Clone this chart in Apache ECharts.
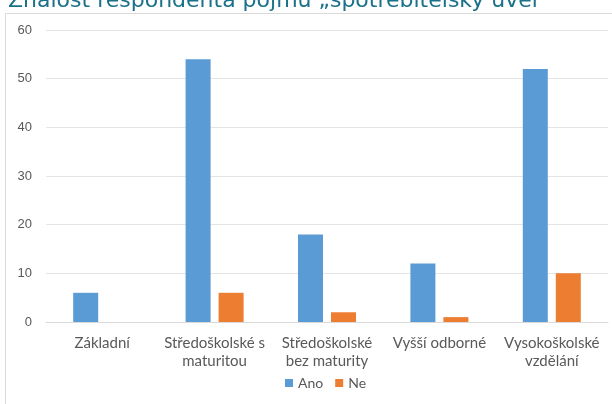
<!DOCTYPE html>
<html>
<head>
<meta charset="utf-8">
<script src="https://cdn.jsdelivr.net/npm/echarts@6/dist/echarts.min.js"></script>
<style>
  html, body { margin: 0; padding: 0; background: #fff; }
  #chart { width: 612px; height: 404px; }
</style>
</head>
<body>
<div id="chart"></div>
<script>
// data
const categories = ['Základní', 'Středoškolské s\nmaturitou', 'Středoškolské\nbez maturity', 'Vyšší odborné', 'Vysokoškolské\nvzdělání']
const ano = [6, 54, 18, 12, 52]
const ne = [0, 6, 2, 1, 10]
const yTicks = { min: 0, max: 60, interval: 10 }

let myChart = echarts.init(document.getElementById('chart'))
let option = {
  animation: false,
  title: {
    text: 'Znalost respondenta pojmu „spotřebitelský úvěr"',
    left: 3,
    top: -15,
    textStyle: { color: '#1b7189', fontSize: 22, fontWeight: 'normal', fontFamily: 'DejaVu Sans' }
  },
  graphic: [
    {
      type: 'rect',
      shape: { x: 5.5, y: 13.5, width: 640, height: 420 },
      style: { fill: 'none', stroke: '#d9d9d9', lineWidth: 1 },
      z: -1
    }
  ],
  legend: {
    bottom: 9,
    left: 280,
    itemWidth: 8,
    itemHeight: 8,
    itemGap: 12,
    icon: 'rect',
    textStyle: { color: '#595959', fontSize: 14, fontFamily: 'Lato' },
    data: ['Ano', 'Ne']
  },
  grid: { left: 46, right: 4, top: 30, bottom: 82 },
  xAxis: {
    type: 'category',
    data: categories,
    axisLine: { lineStyle: { color: '#d9d9d9' } },
    axisTick: { show: false },
    axisLabel: { color: '#595959', fontSize: 15, fontFamily: 'Lato', margin: 12, lineHeight: 18, interval: 0 }
  },
  yAxis: {
    type: 'value',
    min: yTicks.min,
    max: yTicks.max,
    interval: yTicks.interval,
    axisLine: { show: false },
    axisTick: { show: false },
    axisLabel: { color: '#595959', fontSize: 13, fontFamily: 'Liberation Sans', margin: 14 },
    splitLine: { lineStyle: { color: '#e4e4e4' } }
  },
  series: [
    {
      name: 'Ano',
      type: 'bar',
      data: ano,
      barWidth: 25,
      barGap: '32%',
      itemStyle: { color: '#5b9bd5' }
    },
    {
      name: 'Ne',
      type: 'bar',
      data: ne,
      barWidth: 25,
      itemStyle: { color: '#ed7d31' }
    }
  ]
}
myChart.setOption(option)
</script>
</body>
</html>
